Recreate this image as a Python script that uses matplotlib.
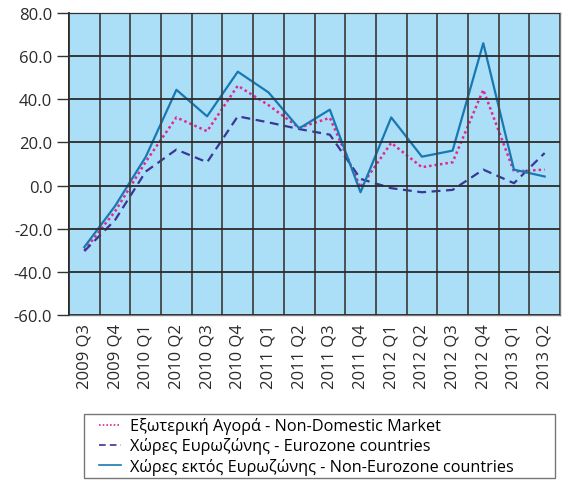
import matplotlib.pyplot as plt
from matplotlib.legend_handler import HandlerLine2D
import numpy as np

plt.rcParams['font.family'] = ['Open Sans', 'DejaVu Sans']

# data
quarters = ['2009 Q3', '2009 Q4', '2010 Q1', '2010 Q2', '2010 Q3', '2010 Q4',
            '2011 Q1', '2011 Q2', '2011 Q3', '2011 Q4', '2012 Q1', '2012 Q2',
            '2012 Q3', '2012 Q4', '2013 Q1', '2013 Q2']
non_domestic = [-30.0, -12.0, 11.0, 31.6, 25.2, 46.3, 37.3, 26.8, 31.4, -0.8,
                19.8, 8.5, 10.8, 44.4, 6.5, 7.4]
eurozone = [-30.4, -16.0, 6.5, 16.7, 10.8, 32.1, 29.3, 26.2, 23.6, 3.1,
            -1.2, -3.1, -2.0, 7.4, 1.1, 15.1]
non_eurozone = [-28.5, -9.5, 13.3, 44.4, 32.1, 52.8, 43.2, 26.5, 35.2, -3.1,
                31.6, 13.4, 16.2, 66.0, 7.4, 4.2]

labels = ['Εξωτερική Αγορά - Non-Domestic Market',
          'Χώρες Ευρωζώνης - Eurozone countries',
          'Χώρες εκτός Ευρωζώνης - Non-Eurozone countries']

fig = plt.figure(figsize=(5.62, 4.85), dpi=100)
ax = fig.add_axes([69/562, 1-316/485, (560-69)/562, (316-14)/485])
x = np.arange(len(quarters))

ax.set_facecolor('#abdff8')
ax.plot(x, non_domestic, color='#e3268f', linestyle=(0, (1, 1.2)), linewidth=1.8, label=labels[0])
ax.plot(x, eurozone, color='#3a3596', linestyle=(0, (4, 2.5)), linewidth=1.6, label=labels[1])
ax.plot(x, non_eurozone, color='#1878b4', linestyle='-', linewidth=1.6, label=labels[2])

ax.set_xlim(-0.5, len(quarters) - 0.5)
ax.set_ylim(-60, 80)
ax.set_yticks(np.arange(-60, 81, 20))
ax.set_yticklabels(['%.1f' % v for v in np.arange(-60, 81, 20)], fontsize=12, color='#2a2a2a')
ax.set_xticks(x)
ax.set_xticklabels(quarters, rotation=90, fontsize=12, color='#2a2a2a')
ax.set_xticks(np.arange(-0.5, len(quarters)), minor=True)
ax.tick_params(axis='x', which='both', length=0, pad=6)
ax.tick_params(axis='y', length=9, width=1, color='#333333', pad=3)

ax.grid(True, axis='y', which='major', color='#2a2a2a', linewidth=1.3)
ax.grid(True, axis='x', which='minor', color='#444444', linewidth=1.3)
ax.grid(False, axis='x', which='major')
ax.set_axisbelow(False)
for s in ['top', 'right', 'bottom']:
    ax.spines[s].set_color('#777777')
    ax.spines[s].set_linewidth(1.0)
ax.spines['left'].set_color('#111111')
ax.spines['left'].set_linewidth(1.3)

leg = fig.legend(loc='center', bbox_to_anchor=(84/562, 2/485, (555-84)/562, (483-411)/485),
                 mode='expand', borderaxespad=0, borderpad=0.2, fontsize=11.7,
                 handlelength=2.1, handletextpad=0.55, labelspacing=0.2,
                 fancybox=False, edgecolor='#555555',
                 handler_map={plt.Line2D: HandlerLine2D(xpad=0.75)})
leg.get_frame().set_linewidth(1.0)
for line in leg.get_lines():
    line.set_linewidth(1.2)

fig.savefig('out.png', dpi=100)
